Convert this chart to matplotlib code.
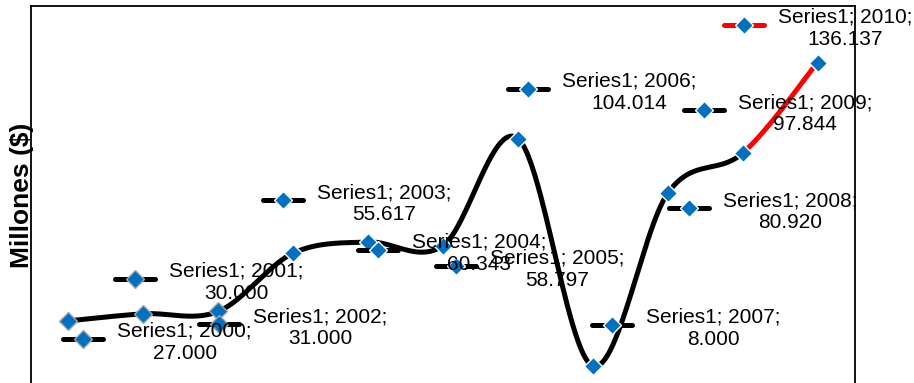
import numpy as np
import matplotlib
matplotlib.use("Agg")
import matplotlib.pyplot as plt
from matplotlib.transforms import IdentityTransform

plt.rcParams['font.family'] = ['Liberation Sans', 'DejaVu Sans']

# datos
series_name = 'Series1'
years = ['2000', '2001', '2002', '2003', '2004', '2005',
         '2006', '2007', '2008', '2009', '2010']
values = [27.0, 30.0, 31.0, 55.617, 60.343, 58.797,
          104.014, 8.0, 80.920, 97.844, 136.137]
value_labels = ['27.000', '30.000', '31.000', '55.617', '60.343', '58.797',
                '104.014', '8.000', '80.920', '97.844', '136.137']

# posicion de cada etiqueta (clave) respecto al punto, en pixeles (derecha, abajo)
label_offsets = [(15, 18), (-8, -35), (1, 13), (-10, -53), (10, 8), (13, 20),
                 (10, -50), (19, -41), (21, 15), (-39, -43), (-74, -38)]

W, H = 914, 383
BLUE = '#0070C0'


def smooth_segment(x, y, i, n=50):
    """Curva suavizada tipo Excel (Bezier / Catmull-Rom) entre i e i+1"""
    p = np.column_stack([x, y])
    p0 = p[max(i - 1, 0)]
    p1 = p[i]
    p2 = p[i + 1]
    p3 = p[min(i + 2, len(p) - 1)]
    c1 = p1 + (p2 - p0) / 6
    c2 = p2 - (p3 - p1) / 6
    t = np.linspace(0, 1, n)[:, None]
    b = (1 - t)**3 * p1 + 3 * (1 - t)**2 * t * c1 + 3 * (1 - t) * t**2 * c2 + t**3 * p2
    return b[:, 0], b[:, 1]


fig = plt.figure(figsize=(W / 100, H / 100), dpi=100)
ax = fig.add_axes([31 / W, -0.0047, 824 / W, 0.989])
ax.set_xlim(-0.5, len(years) - 0.5)
ax.set_ylim(0, 160)
ax.set_xticks([])
ax.set_yticks([])
for s in ax.spines.values():
    s.set_linewidth(1.3)
    s.set_color('black')

x = np.arange(len(years))
y = np.array(values)

# linea negra suavizada hasta 2009, tramo rojo 2009-2010
bx, by = [], []
for i in range(len(x) - 2):
    sx, sy = smooth_segment(x, y, i)
    bx.append(sx)
    by.append(sy)
ax.plot(np.concatenate(bx), np.concatenate(by), color='black', lw=3.6,
        solid_capstyle='round', solid_joinstyle='round', zorder=2)
rx, ry = smooth_segment(x, y, len(x) - 2)
ax.plot(rx, ry, color='#FF0000', lw=3.6, solid_capstyle='round', zorder=2)

edge_colors = ['#A6A6A6'] * 3 + ['white'] * (len(x) - 3)
for i in range(len(x)):
    ax.plot(x[i], y[i], 'D', ms=9, mfc=BLUE, mec=edge_colors[i], mew=1.0, zorder=3)

# etiquetas de datos con clave de leyenda
for i in range(len(x)):
    px, py = ax.transData.transform((x[i], y[i]))
    dx, dy = label_offsets[i]
    kx, ky = px + dx, py - dy
    col = '#FF0000' if i == len(x) - 1 else 'black'
    ax.plot([kx - 20, kx + 20], [ky, ky], color=col, lw=3.6, solid_capstyle='round',
            transform=IdentityTransform(), clip_on=False, zorder=4)
    ax.plot([kx], [ky], 'D', ms=9, mfc=BLUE, mec=edge_colors[i], mew=1.0,
            transform=IdentityTransform(), clip_on=False, zorder=5)
    ax.text(kx + 34, ky, f'{series_name}; {years[i]};\n{value_labels[i]}',
            transform=IdentityTransform(), ha='left', va='center_baseline',
            multialignment='center', fontsize=15, color='black',
            clip_on=False, zorder=6)

fig.text(22 / W, 1 - 195 / H, 'Millones ($)', rotation=90, ha='center',
         va='center', fontsize=19, fontweight='bold')

fig.savefig('out.png', dpi=100)
